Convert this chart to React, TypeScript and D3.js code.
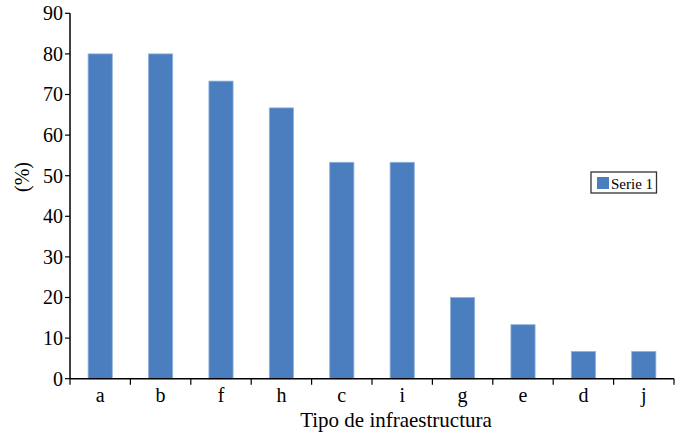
import React from "react";
import * as d3 from "d3";

const categories = ["a", "b", "f", "h", "c", "i", "g", "e", "d", "j"];
const values = [80, 80, 73.3, 66.7, 53.3, 53.3, 20, 13.3, 6.7, 6.7];
const yTicks = [0, 10, 20, 30, 40, 50, 60, 70, 80, 90];
const seriesName = "Serie 1";
const xTitle = "Tipo de infraestructura";
const yTitle = "(%)";

const W = 683;
const H = 434;
const left = 70;
const right = 674;
const top = 13.3;
const bottom = 378.7;
const font = "Liberation Serif";

export default function App() {
  const x = d3.scaleBand<string>().domain(categories).range([left, right]).paddingInner(0.6).paddingOuter(0.3);
  const band = d3.scaleBand<string>().domain(categories).range([left, right]);
  const y = d3.scaleLinear().domain([0, 90]).range([bottom, top]);
  const boundaries = [left, ...categories.map((c) => (band(c) as number) + band.bandwidth())];
  return (
    <svg width={W} height={H} style={{ position: "absolute", left: 0, top: 0, background: "#fff" }}>
      {categories.map((c, i) => (
        <rect
          key={c}
          x={x(c)}
          y={y(values[i])}
          width={x.bandwidth()}
          height={bottom - y(values[i])}
          fill="#4a7ebf"
          stroke="#8fb0dc"
          strokeWidth={0.8}
        />
      ))}
      <line x1={left} x2={left} y1={top} y2={bottom} stroke="#000" strokeWidth={1.5} />
      <line x1={left} x2={right} y1={bottom} y2={bottom} stroke="#000" strokeWidth={1.5} />
      {yTicks.map((t) => (
        <g key={t}>
          <line x1={left - 5} x2={left} y1={y(t)} y2={y(t)} stroke="#000" strokeWidth={1.2} />
          <text x={left - 7} y={y(t)} dy="0.34em" textAnchor="end" fontFamily={font} fontSize={20} fill="#000">
            {t}
          </text>
        </g>
      ))}
      {boundaries.map((b, i) => (
        <line key={i} x1={b} x2={b} y1={bottom} y2={bottom + 6} stroke="#000" strokeWidth={1.2} />
      ))}
      {categories.map((c) => (
        <text
          key={c}
          x={(band(c) as number) + band.bandwidth() / 2}
          y={402}
          textAnchor="middle"
          fontFamily={font}
          fontSize={20}
          fill="#000"
        >
          {c}
        </text>
      ))}
      <text x={396} y={427} textAnchor="middle" fontFamily={font} fontSize={21} fill="#000">
        {xTitle}
      </text>
      <text
        transform={`translate(29, 177) rotate(-90)`}
        textAnchor="middle"
        fontFamily={font}
        fontSize={20}
        fill="#000"
      >
        {yTitle}
      </text>
      <rect x={591} y={172} width={65.5} height={21} fill="#fff" stroke="#333" strokeWidth={1.3} />
      <rect x={597} y={177} width={12} height={12} fill="#4a7ebf" />
      <text x={611} y={188.5} fontFamily={font} fontSize={15} fill="#000">
        {seriesName}
      </text>
    </svg>
  );
}
